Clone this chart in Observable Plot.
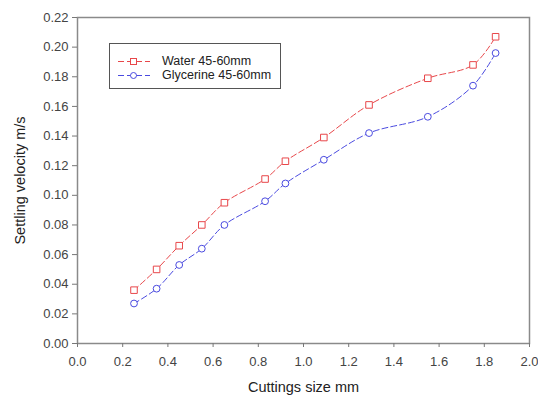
<!DOCTYPE html>
<html>
<head>
<meta charset="utf-8">
<script src="https://cdn.jsdelivr.net/npm/d3@7"></script>
<script src="https://cdn.jsdelivr.net/npm/@observablehq/plot@0.6"></script>
<style>
  html, body { margin: 0; padding: 0; background: #fff; }
  #wrap { position: relative; width: 538px; height: 399px; font-family: "Liberation Sans", Arial, sans-serif; }
  #wrap svg { font-family: "Liberation Sans", Arial, sans-serif; }
  #wrap svg g[aria-label$="tick label"] text { font-size: 13px; fill: #444; }
  #wrap svg g[aria-label$="axis label"] text { font-size: 14.5px; fill: #222; }
  #legend { position: absolute; left: 109px; top: 43px; width: 172px; height: 46px; border: 1px solid #555; background: #fff; box-sizing: border-box; }
  .item { position: absolute; left: 0; height: 14px; display: flex; align-items: center; font-size: 12.5px; color: #222; }
  .item svg { margin-left: 8px; margin-right: 12px; }
</style>
</head>
<body>
<div id="wrap"></div>
<script>
const sizes      = [0.25, 0.35, 0.45, 0.55, 0.65, 0.83, 0.92, 1.09, 1.29, 1.55, 1.75, 1.85];
const water      = [0.036, 0.050, 0.066, 0.080, 0.095, 0.111, 0.123, 0.139, 0.161, 0.179, 0.188, 0.207];
const glycerine  = [0.027, 0.037, 0.053, 0.064, 0.080, 0.096, 0.108, 0.124, 0.142, 0.153, 0.174, 0.196];
const seriesNames = ["Water 45-60mm", "Glycerine 45-60mm"];
const xTicks = d3.range(0, 2.0001, 0.2);
const yTicks = d3.range(0, 0.22001, 0.02);

const red = "#e8474a", blue = "#4a4ae0";
const wData = sizes.map((s, i) => ({x: s, y: water[i]}));
const gData = sizes.map((s, i) => ({x: s, y: glycerine[i]}));

const chart = Plot.plot({
  width: 538,
  height: 399,
  marginLeft: 77,
  marginRight: 9,
  marginTop: 17,
  marginBottom: 56,
  x: {domain: [0, 2.0]},
  y: {domain: [0, 0.22]},
  marks: [
    Plot.frame({stroke: "#8a8a8a", strokeWidth: 1.5}),
    Plot.axisX({ticks: xTicks, tickFormat: d3.format(".1f"), tickSize: 4, tickPadding: 9, stroke: "#777",
      label: "Cuttings size mm", labelAnchor: "center", labelArrow: "none", labelOffset: 48}),
    Plot.axisY({ticks: yTicks, tickFormat: d3.format(".2f"), tickSize: 5, tickPadding: 4, stroke: "#777",
      label: "Settling velocity m/s", labelAnchor: "center", labelArrow: "none", labelOffset: 63}),
    Plot.line(wData, {x: "x", y: "y", stroke: red, strokeWidth: 1, strokeDasharray: "6,3", curve: "catmull-rom"}),
    Plot.line(gData, {x: "x", y: "y", stroke: blue, strokeWidth: 1, strokeDasharray: "6,3", curve: "catmull-rom"}),
    Plot.dot(wData, {x: "x", y: "y", symbol: "square", r: 3.7, stroke: red, fill: "white", strokeWidth: 1}),
    Plot.dot(gData, {x: "x", y: "y", symbol: "circle", r: 3.4, stroke: blue, fill: "white", strokeWidth: 1})
  ]
});
document.getElementById("wrap").appendChild(chart);

const legend = document.createElement("div");
legend.id = "legend";
const colors = [red, blue];
const shapes = [
  c => `<rect x="12.5" y="4.5" width="6" height="6" fill="white" stroke="${c}"/>`,
  c => `<circle cx="15.5" cy="7.5" r="3" fill="white" stroke="${c}"/>`
];
seriesNames.forEach((name, i) => {
  const it = document.createElement("div");
  it.className = "item";
  it.style.top = (i === 0 ? 10 : 24) + "px";
  it.innerHTML = `<svg width="32" height="14"><line x1="0" y1="7.5" x2="32" y2="7.5" stroke="${colors[i]}" stroke-dasharray="6,3"/>${shapes[i](colors[i])}</svg><span>${name}</span>`;
  legend.appendChild(it);
});
document.getElementById("wrap").appendChild(legend);
</script>
</body>
</html>
